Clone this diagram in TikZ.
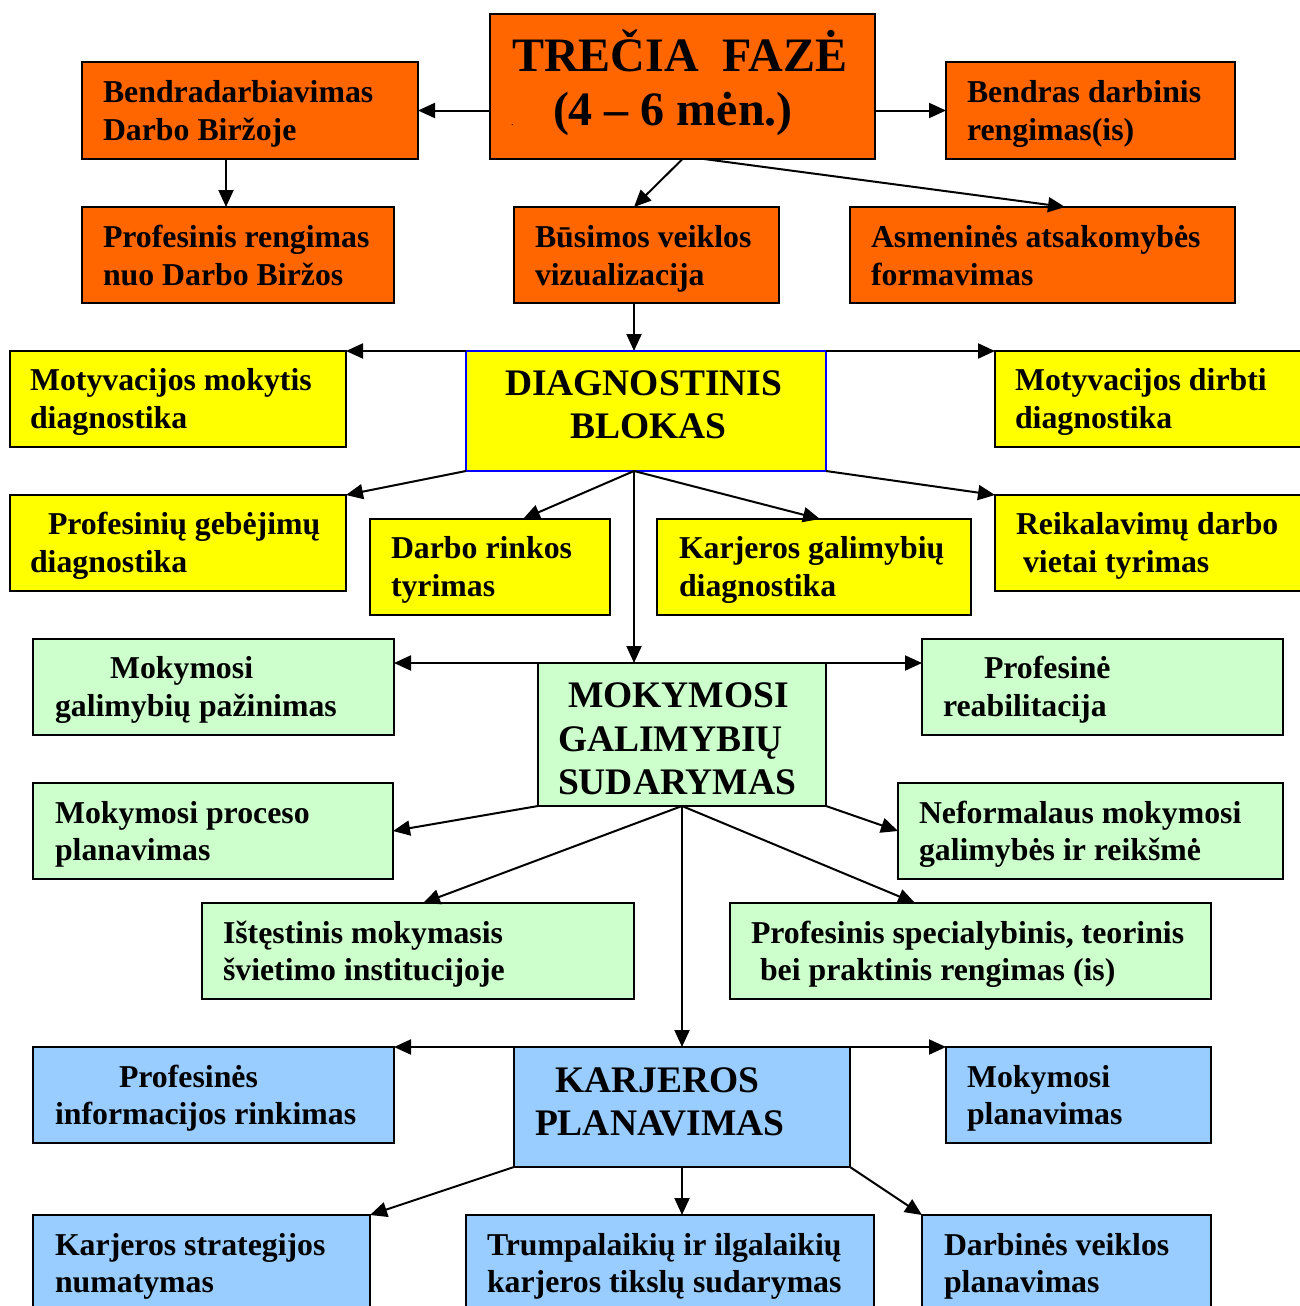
\documentclass[tikz,border=0pt]{standalone}
\usepackage{fontspec}
\setmainfont{Liberation Serif}
\usetikzlibrary{arrows.meta}
\definecolor{orng}{HTML}{FF6600}
\definecolor{yel}{HTML}{FFFF00}
\definecolor{grn}{HTML}{CCFFCC}
\definecolor{blu}{HTML}{99CCFF}
\tikzset{
  box/.style={draw=black, line width=2pt, inner sep=0pt, outer sep=0pt, rectangle},
  obox/.style={box, fill=orng},
  ybox/.style={box, fill=yel},
  dbox/.style={box, fill=yel, draw=blue, line width=1.5pt},
  gbox/.style={box, fill=grn},
  bbox/.style={box, fill=blu},
  arr/.style={line width=2pt, -{Triangle[length=17pt,width=15pt]}},
  txt/.style={anchor=base west, inner sep=0pt, outer sep=0pt, font=\fontsize{31.8}{38}\selectfont\bfseries},
  bigtxt/.style={anchor=base west, inner sep=0pt, outer sep=0pt, font=\fontsize{37.5}{44}\selectfont\bfseries},
  titletxt/.style={anchor=base west, inner sep=0pt, outer sep=0pt, font=\fontsize{48}{57}\selectfont\bfseries},
}
% \bx{name}{style}{x1}{y1}{x2}{y2}
\newcommand\bx[6]{\node[#2, minimum width={(#5)-(#3)}, minimum height={(#6)-(#4)}] (#1) at ({((#3)+(#5))/2},{((#4)+(#6))/2}) {};}
\begin{document}
\begin{tikzpicture}[x=1pt,y=-1pt]
\fill[white] (0,0) rectangle (1299,1306);
\useasboundingbox (0,0) rectangle (1299,1306);

% ---------- orange ----------
\bx{tit}{obox}{490}{14}{875}{159}
\bx{bd}{obox}{82}{62}{418}{159}
\bx{bdr}{obox}{946}{62}{1235}{159}
\bx{pr}{obox}{82}{207}{394}{303}
\bx{bus}{obox}{514}{207}{779}{303}
\bx{asm}{obox}{850}{207}{1235}{303}

\node[titletxt] (tit1) at (512,71) {TREČIA\hspace{0.25em} FAZĖ};
\node[titletxt] (tit2) at (553,125) {(4 – 6 mėn.)};
\node[anchor=base west, inner sep=0pt, font=\fontsize{10}{12}\selectfont] (titdot) at (511,125) {.};
\node[txt] (bd1) at (103,102) {Bendradarbiavimas};
\node[txt] (bd2) at (103,140) {Darbo Biržoje};
\node[txt] (bdr1) at (967,102) {Bendras darbinis};
\node[txt] (bdr2) at (967,140) {rengimas(is)};
\node[txt] (pr1) at (103,247) {Profesinis rengimas};
\node[txt] (pr2) at (103,285) {nuo Darbo Biržos};
\node[txt] (bus1) at (535,247) {Būsimos veiklos};
\node[txt] (bus2) at (535,285) {vizualizacija};
\node[txt] (asm1) at (871,247) {Asmeninės atsakomybės};
\node[txt] (asm2) at (871,285) {formavimas};

% ---------- yellow ----------
\bx{diag}{dbox}{466}{351}{826}{471}
\bx{mm}{ybox}{10}{351}{346}{447}
\bx{md}{ybox}{995}{351}{1306}{447}
\bx{pg}{ybox}{10}{495}{346}{591}
\bx{dr}{ybox}{370}{519}{610}{615}
\bx{kg}{ybox}{657}{519}{971}{615}
\bx{rk}{ybox}{995}{495}{1306}{591}

\node[bigtxt] (diag1) at (505,395) {DIAGNOSTINIS};
\node[bigtxt] (diag2) at (570,438) {BLOKAS};
\node[txt] (mm1) at (30,390) {Motyvacijos mokytis};
\node[txt] (mm2) at (30,428) {diagnostika};
\node[txt] (md1) at (1015,390) {Motyvacijos dirbti};
\node[txt] (md2) at (1015,428) {diagnostika};
\node[txt] (pg1) at (48,534) {Profesinių gebėjimų};
\node[txt] (pg2) at (30,572) {diagnostika};
\node[txt] (dr1) at (391,558) {Darbo rinkos};
\node[txt] (dr2) at (391,596) {tyrimas};
\node[txt] (kg1) at (679,558) {Karjeros galimybių};
\node[txt] (kg2) at (679,596) {diagnostika};
\node[txt] (rk1) at (1016,534) {Reikalavimų darbo};
\node[txt] (rk2) at (1023,572) {vietai tyrimas};

% ---------- green ----------
\bx{mgs}{gbox}{538}{663}{826}{806}
\bx{mgp}{gbox}{33}{639}{394}{735}
\bx{mpp}{gbox}{33}{783}{393}{879}
\bx{ist}{gbox}{202}{903}{634}{999}
\bx{pra}{gbox}{922}{639}{1283}{735}
\bx{nef}{gbox}{898}{783}{1283}{879}
\bx{pss}{gbox}{730}{903}{1211}{999}

\node[bigtxt] (mgs1) at (568,707) {MOKYMOSI};
\node[bigtxt] (mgs2) at (558,751) {GALIMYBIŲ};
\node[bigtxt] (mgs3) at (558,794) {SUDARYMAS};
\node[txt] (mgp1) at (110,678) {Mokymosi};
\node[txt] (mgp2) at (55,716) {galimybių pažinimas};
\node[txt] (mpp1) at (55,823) {Mokymosi proceso};
\node[txt] (mpp2) at (55,860) {planavimas};
\node[txt] (ist1) at (223,943) {Ištęstinis mokymasis};
\node[txt] (ist2) at (223,980) {švietimo institucijoje};
\node[txt] (pra1) at (984,678) {Profesinė};
\node[txt] (pra2) at (943,716) {reabilitacija};
\node[txt] (nef1) at (919,823) {Neformalaus mokymosi};
\node[txt] (nef2) at (919,860) {galimybės ir reikšmė};
\node[txt] (pss1) at (751,943) {Profesinis specialybinis, teorinis};
\node[txt] (pss2) at (760,980) {bei praktinis rengimas (is)};

% ---------- blue ----------
\bx{kp}{bbox}{514}{1047}{850}{1167}
\bx{pir}{bbox}{33}{1047}{394}{1143}
\bx{mpl}{bbox}{946}{1047}{1211}{1143}
\bx{ks}{bbox}{33}{1215}{370}{1315}
\bx{tr}{bbox}{466}{1215}{874}{1315}
\bx{db}{bbox}{922}{1215}{1211}{1315}

\node[bigtxt] (kp1) at (555,1092) {KARJEROS};
\node[bigtxt] (kp2) at (535,1135) {PLANAVIMAS};
\node[txt] (pir1) at (119,1087) {Profesinės};
\node[txt] (pir2) at (55,1124) {informacijos rinkimas};
\node[txt] (mpl1) at (967,1087) {Mokymosi};
\node[txt] (mpl2) at (967,1124) {planavimas};
\node[txt] (ks1) at (55,1255) {Karjeros strategijos};
\node[txt] (ks2) at (55,1292) {numatymas};
\node[txt] (tr1) at (487,1255) {Trumpalaikių ir ilgalaikių};
\node[txt] (tr2) at (487,1292) {karjeros tikslų sudarymas};
\node[txt] (db1) at (944,1255) {Darbinės veiklos};
\node[txt] (db2) at (944,1292) {planavimas};

% ---------- connectors ----------
\draw[arr] (tit.west |- bd.east) -- (bd.east);
\draw[arr] (tit.east |- bdr.west) -- (bdr.west);
\draw[arr] (bd.south -| 226,0) -- (pr.north -| 226,0);
\draw[arr] (tit.south) -- (bus.north -| 634,0);
\draw[arr] (tit.south -| 704,0) -- (asm.north -| 1065,0);
\draw[arr] (bus.south -| 634,0) -- (diag.north -| 634,0);

\draw[arr] (diag.north west) -- (mm.north east);
\draw[arr] (diag.north east) -- (md.north west);
\draw[arr] (diag.south west) -- (pg.north east);
\draw[arr] (diag.south -| 634,0) -- (dr.north -| 523,0);
\draw[arr] (diag.south -| 634,0) -- (kg.north -| 820,0);
\draw[arr] (diag.south east) -- (rk.north west);
\draw[arr] (diag.south -| 634,0) -- (mgs.north -| 634,0);

\draw[arr] (mgs.north west) -- (mgp.east |- mgs.north);
\draw[arr] (mgs.north east) -- (pra.west |- mgs.north);
\draw[arr] (mgs.south west) -- (mpp.east);
\draw[arr] (mgs.south east) -- (nef.west);
\draw[arr] (mgs.south) -- (ist.north -| 423,0);
\draw[arr] (mgs.south) -- (pss.north -| 915,0);
\draw[arr] (mgs.south) -- (kp.north);

\draw[arr] (kp.north west) -- (pir.east |- kp.north);
\draw[arr] (kp.north east) -- (mpl.west |- kp.north);
\draw[arr] (kp.south west) -- (ks.north east);
\draw[arr] (kp.south) -- (tr.north -| kp.south);
\draw[arr] (kp.south east) -- (db.north west);
\end{tikzpicture}
\end{document}
